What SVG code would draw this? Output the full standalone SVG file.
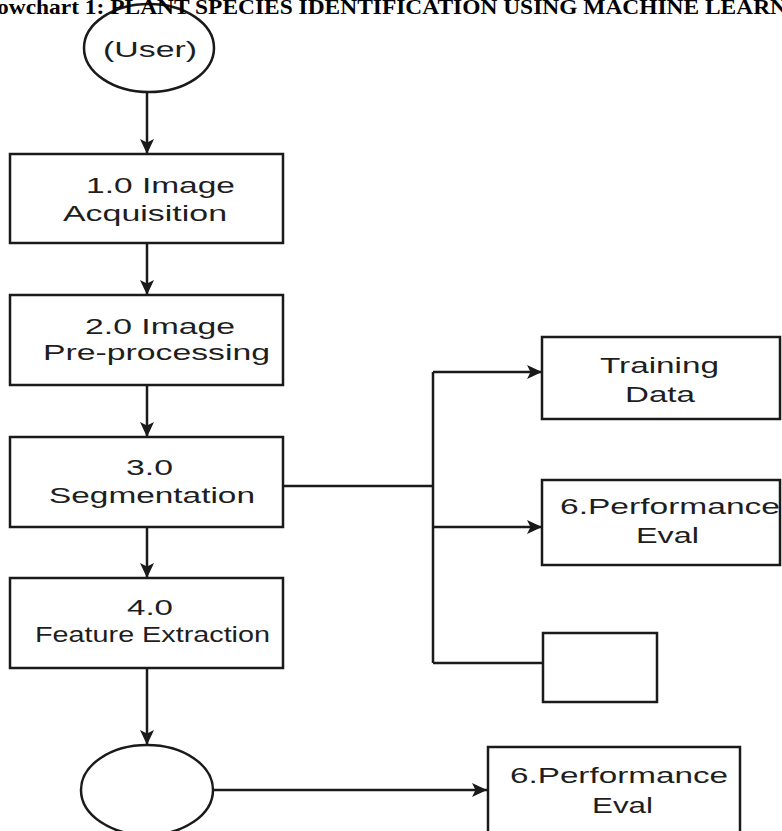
<svg xmlns="http://www.w3.org/2000/svg" width="782" height="831" viewBox="0 0 782 831">
  <style>
    .node { fill: #ffffff; stroke: #1a1a1a; stroke-width: 2.5; }
    .lbl { font-family: "Liberation Sans", Arial, Helvetica, sans-serif; font-size: 22px; fill: #1e1e1e; }
    .wire { fill: none; stroke: #1a1a1a; stroke-width: 2.5; }
    .title { font-family: "Liberation Serif", "Times New Roman", serif; font-weight: bold; font-size: 21px; fill: #000; }
  </style>
  <defs>
    <marker id="arrow" markerUnits="userSpaceOnUse" markerWidth="16" markerHeight="14" refX="15" refY="7" orient="auto">
      <path d="M0,0 L15,7 L0,14 L3.5,7 Z" fill="#1a1a1a"/>
    </marker>
  </defs>
  <rect width="782" height="831" fill="#ffffff"/>

  <g id="connectors">
    <path class="wire" d="M147,92 V154" marker-end="url(#arrow)"/>
    <path class="wire" d="M147,243 V295" marker-end="url(#arrow)"/>
    <path class="wire" d="M147,385 V437" marker-end="url(#arrow)"/>
    <path class="wire" d="M147,527 V578" marker-end="url(#arrow)"/>
    <path class="wire" d="M147,668 V745" marker-end="url(#arrow)"/>
    <path class="wire" d="M283,486 H433"/>
    <path class="wire" d="M433,372 V663"/>
    <path class="wire" d="M433,372 H542" marker-end="url(#arrow)"/>
    <path class="wire" d="M433,527 H542" marker-end="url(#arrow)"/>
    <path class="wire" d="M433,663 H543"/>
    <path class="wire" d="M213,790 H487" marker-end="url(#arrow)"/>
  </g>

  <g id="user">
    <ellipse class="node" cx="149" cy="48" rx="65" ry="44"/>
    <text class="lbl" x="103" y="57" textLength="94" lengthAdjust="spacingAndGlyphs">(User)</text>
  </g>

  <g id="acquisition">
    <rect class="node" x="10" y="154" width="273" height="89"/>
    <text class="lbl" x="86" y="193" textLength="149" lengthAdjust="spacingAndGlyphs">1.0 Image</text>
    <text class="lbl" x="63" y="221" textLength="164" lengthAdjust="spacingAndGlyphs">Acquisition</text>
  </g>

  <g id="preprocessing">
    <rect class="node" x="10" y="295" width="273" height="90"/>
    <text class="lbl" x="85" y="334" textLength="150" lengthAdjust="spacingAndGlyphs">2.0 Image</text>
    <text class="lbl" x="43" y="360" textLength="227" lengthAdjust="spacingAndGlyphs">Pre-processing</text>
  </g>

  <g id="segmentation">
    <rect class="node" x="10" y="437" width="273" height="90"/>
    <text class="lbl" x="126" y="475" textLength="47" lengthAdjust="spacingAndGlyphs">3.0</text>
    <text class="lbl" x="49" y="503" textLength="206" lengthAdjust="spacingAndGlyphs">Segmentation</text>
  </g>

  <g id="feature-extraction">
    <rect class="node" x="10" y="578" width="273" height="90"/>
    <text class="lbl" x="127" y="615" textLength="46" lengthAdjust="spacingAndGlyphs">4.0</text>
    <text class="lbl" x="35" y="642" textLength="235" lengthAdjust="spacingAndGlyphs">Feature Extraction</text>
  </g>

  <g id="training-data">
    <rect class="node" x="542" y="337" width="238" height="82"/>
    <text class="lbl" x="600" y="373" textLength="119" lengthAdjust="spacingAndGlyphs">Training</text>
    <text class="lbl" x="625" y="402" textLength="70" lengthAdjust="spacingAndGlyphs">Data</text>
  </g>

  <g id="performance-eval-1">
    <rect class="node" x="542" y="480" width="238" height="85"/>
    <text class="lbl" x="560" y="514" textLength="220" lengthAdjust="spacingAndGlyphs">6.Performance</text>
    <text class="lbl" x="636" y="543" textLength="63" lengthAdjust="spacingAndGlyphs">Eval</text>
  </g>

  <g id="empty-box">
    <rect class="node" x="543" y="633" width="114" height="69"/>
  </g>

  <g id="bottom-circle">
    <ellipse class="node" cx="147" cy="790" rx="66" ry="45"/>
  </g>

  <g id="performance-eval-2">
    <rect class="node" x="488" y="747" width="252" height="90"/>
    <text class="lbl" x="510" y="783" textLength="218" lengthAdjust="spacingAndGlyphs">6.Performance</text>
    <text class="lbl" x="592" y="813" textLength="61" lengthAdjust="spacingAndGlyphs">Eval</text>
  </g>

  <!-- page heading, drawn last so it sits over the top ellipse -->
  <text class="title" x="-3" y="14" textLength="790" lengthAdjust="spacingAndGlyphs">owchart 1: PLANT SPECIES IDENTIFICATION USING MACHINE LEARN</text>
</svg>
